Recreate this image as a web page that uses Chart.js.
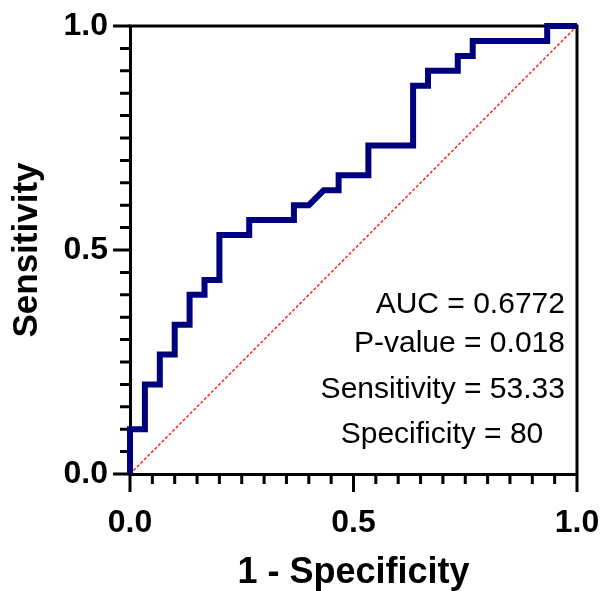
<!DOCTYPE html>
<html>
<head>
<meta charset="utf-8">
<title>ROC curve</title>
<script src="https://cdn.jsdelivr.net/npm/chart.js@4.4.1/dist/chart.umd.min.js"></script>
<style>
  html, body { margin: 0; padding: 0; background: #ffffff; }
  #roc { display: block; }
</style>
</head>
<body>
<canvas id="roc" width="602" height="591"></canvas>
<script>
// ROC curve corner points (1 - specificity, sensitivity)
const fpr = [0, 0, 0.0333, 0.0333, 0.0667, 0.0667, 0.1, 0.1, 0.1333, 0.1333, 0.1667, 0.1667,
  0.2, 0.2, 0.2667, 0.2667, 0.3667, 0.3667, 0.4, 0.4333, 0.4667, 0.4667, 0.5333, 0.5333,
  0.6333, 0.6333, 0.6667, 0.6667, 0.7333, 0.7333, 0.7667, 0.7667, 0.9333, 0.9333, 1];
const tpr = [0, 0.1, 0.1, 0.2, 0.2, 0.2667, 0.2667, 0.3333, 0.3333, 0.4, 0.4, 0.4333,
  0.4333, 0.5333, 0.5333, 0.5667, 0.5667, 0.6, 0.6, 0.6333, 0.6333, 0.6667, 0.6667, 0.7333,
  0.7333, 0.8667, 0.8667, 0.9, 0.9, 0.9333, 0.9333, 0.9667, 0.9667, 1, 1];
// chance line
const refX = [0, 1];
const refY = [0, 1];
const majorTicks = [0, 0.5, 1];
const statLines = ['AUC = 0.6772', 'P-value = 0.018', 'Sensitivity = 53.33', 'Specificity = 80'];

const FONT = "'Liberation Sans', Arial, sans-serif";

const isMajor = v => majorTicks.some(m => Math.abs(m - v) < 1e-6);

// tick marks (long for major, short for minor) plus the top/right frame
const framePlugin = {
  id: 'frame',
  beforeDatasetsDraw(chart) {
    const { ctx, chartArea: a, scales: { x, y } } = chart;
    ctx.save();
    ctx.strokeStyle = '#000';
    ctx.lineWidth = 3;
    ctx.lineCap = 'butt';
    ctx.beginPath();
    ctx.moveTo(a.left - 1.5, a.top);
    ctx.lineTo(a.right, a.top);
    ctx.lineTo(a.right, a.bottom);
    ctx.stroke();
    ctx.beginPath();
    x.ticks.forEach(t => {
      const px = x.getPixelForValue(t.value);
      ctx.moveTo(px, a.bottom);
      ctx.lineTo(px, a.bottom + (isMajor(t.value) ? 18 : 10));
    });
    y.ticks.forEach(t => {
      const py = y.getPixelForValue(t.value);
      ctx.moveTo(a.left, py);
      ctx.lineTo(a.left - (isMajor(t.value) ? 17 : 10), py);
    });
    ctx.stroke();
    ctx.restore();
  }
};

// AUC / statistics text block
const statsPlugin = {
  id: 'stats',
  afterDraw(chart) {
    const { ctx, scales: { x, y } } = chart;
    const spots = [[0.973, 0.359, 'right'], [0.973, 0.272, 'right'], [0.973, 0.170, 'right'], [0.698, 0.069, 'center']];
    ctx.save();
    ctx.fillStyle = '#000';
    ctx.font = '30px ' + FONT;
    ctx.textBaseline = 'alphabetic';
    statLines.forEach((txt, i) => {
      const [sx, sy, al] = spots[i];
      ctx.textAlign = al;
      ctx.fillText(txt, x.getPixelForValue(sx), y.getPixelForValue(sy));
    });
    ctx.restore();
  }
};

const tickLabel = v => isMajor(v) ? Number(v).toFixed(1) : '';

// labels may hang past the plot; keep the plot box where it is
const noOverhang = s => {
  s.paddingLeft = 0; s.paddingRight = 0; s.paddingTop = 0; s.paddingBottom = 0;
};

new Chart(document.getElementById('roc'), {
  type: 'line',
  data: {
    datasets: [
      {
        label: 'ROC',
        data: fpr.map((v, i) => ({ x: v, y: tpr[i] })),
        borderColor: '#00007f',
        borderWidth: 6,
        borderJoinStyle: 'miter',
        pointRadius: 0,
        tension: 0,
        fill: false,
        clip: false
      },
      {
        label: 'Reference',
        data: refX.map((v, i) => ({ x: v, y: refY[i] })),
        borderColor: '#ff2020',
        borderWidth: 1.5,
        borderDash: [3, 2],
        pointRadius: 0,
        fill: false
      }
    ]
  },
  options: {
    responsive: false,
    animation: false,
    layout: { padding: { left: 0, right: 25, top: 26, bottom: 0 } },
    plugins: { legend: { display: false }, tooltip: { enabled: false } },
    scales: {
      x: {
        type: 'linear',
        min: 0,
        max: 1,
        afterFit: s => { s.height = 117; noOverhang(s); },
        grid: { display: false, drawTicks: false },
        border: { display: true, color: '#000', width: 3 },
        ticks: {
          stepSize: 0.05,
          autoSkip: false,
          maxRotation: 0,
          padding: 30,
          color: '#000',
          font: { family: FONT, size: 32, weight: 'bold' },
          callback: tickLabel
        },
        title: {
          display: true,
          text: '1 - Specificity',
          color: '#000',
          font: { family: FONT, size: 36, weight: 'bold', lineHeight: 1 },
          padding: { top: 0, bottom: 0 }
        }
      },
      y: {
        type: 'linear',
        min: 0,
        max: 1,
        afterFit: s => { s.width = 130; noOverhang(s); },
        grid: { display: false, drawTicks: false },
        border: { display: true, color: '#000', width: 3 },
        ticks: {
          stepSize: 0.05,
          autoSkip: false,
          padding: 22,
          color: '#000',
          font: { family: FONT, size: 32, weight: 'bold' },
          callback: tickLabel
        },
        title: {
          display: true,
          text: 'Sensitivity',
          color: '#000',
          font: { family: FONT, size: 35, weight: 'bold', lineHeight: 1 },
          padding: { top: 10, bottom: 0 }
        }
      }
    }
  },
  plugins: [framePlugin, statsPlugin]
});
</script>
</body>
</html>
